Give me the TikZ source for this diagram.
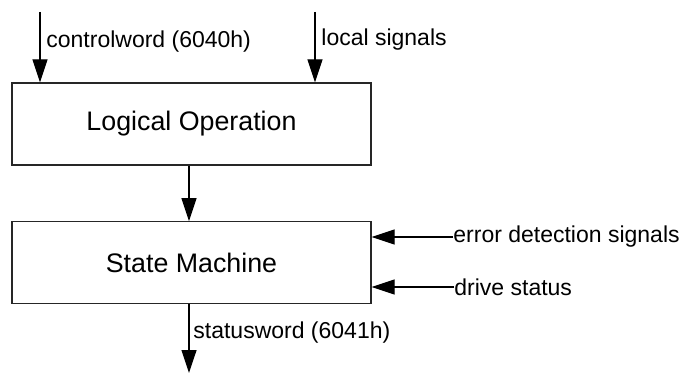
\documentclass[tikz,border=0pt]{standalone}
\usepackage{fontspec}
\setmainfont{Liberation Sans}
\usetikzlibrary{positioning,arrows.meta}
\tikzstyle{bloc}=[rectangle,draw=black!85,line width=0.6pt,minimum width=179.5pt,minimum height=41pt,font=\fontsize{13.4}{16}\selectfont]
\tikzstyle{signal}=[font=\fontsize{11.5}{14}\selectfont,inner sep=0pt]
\tikzstyle{fleche}=[-{Triangle[length=11.5pt,width=7.5pt]},line width=0.6pt]

\begin{document}
\begin{tikzpicture}[x=0.5pt,y=-0.5pt]
\useasboundingbox (0,0) rectangle (689,373);

\node[bloc] (LO) at (191.5,124) {Logical Operation};
\node[bloc] (SM) [below =27.8pt of LO] {State Machine};

\coordinate (CW) at (40,12);
\coordinate (LS) at (315,12);
\coordinate (SW) at (189,373);
\node[signal,anchor=west] (tCW) at (46,42) {controlword (6040h)};
\node[signal,anchor=west] (tLS) at (321,40) {local signals};
\node[signal,anchor=west] (tED) at (453,237) {error detection signals};
\node[signal,anchor=west] (tDS) at (454,287) {drive status};
\node[signal,anchor=west] (tSW) at (193,333) {statusword (6041h)};

\draw[fleche] (CW) -- (CW |- LO.north);
\draw[fleche] (LS) -- (LS |- LO.north);
\draw[fleche] (SW |- LO.south) -- (SW |- SM.north);
\draw[fleche] (tED.west) -- (SM.east |- tED.west);
\draw[fleche] (tDS.west) -- (SM.east |- tDS.west);
\draw[fleche] (SW |- SM.south) -- (SW);

\end{tikzpicture}
\end{document}
